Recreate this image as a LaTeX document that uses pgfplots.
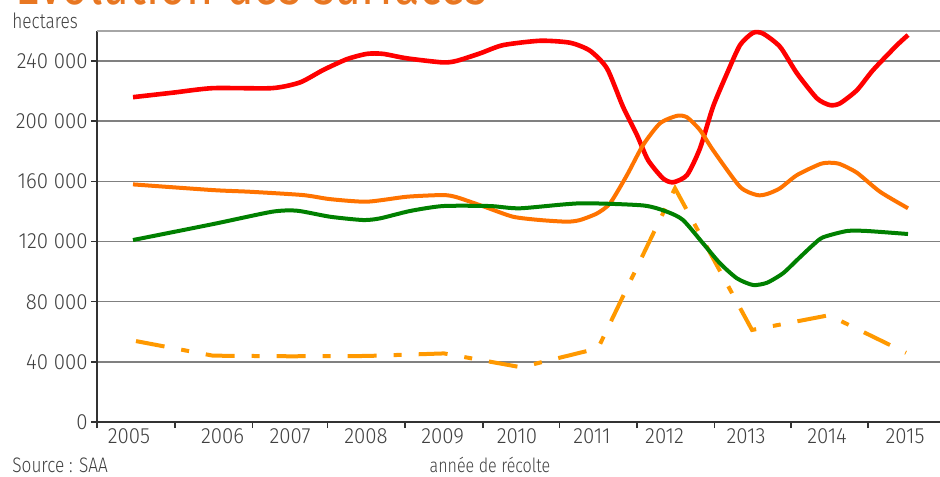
\documentclass[border=0pt]{standalone}
\usepackage{fontspec}
\setmainfont{Fira Sans Light}[FakeStretch=0.82]
\newfontfamily\tickfont{Fira Sans Light}[FakeStretch=0.93]
\newfontfamily\titlefont{Fira Sans}[FakeStretch=0.8]
\usepackage{pgfplots}
\pgfplotsset{compat=1.18}
\definecolor{cred}{RGB}{255,0,0}
\definecolor{corange}{RGB}{255,115,0}
\definecolor{cdash}{RGB}{255,153,0}
\definecolor{cgreen}{RGB}{0,128,0}
\definecolor{ctitle}{RGB}{232,119,34}
\definecolor{ctext}{RGB}{64,64,64}
\begin{document}
\begin{tikzpicture}[x=1pt,y=1pt]
\begin{axis}[
  at={(48.5pt,27pt)}, anchor=south west,
  scale only axis, width=421.5pt, height=195.5pt,
  xmin=97, xmax=940, ymin=0, ymax=260000,
  axis x line*=bottom, axis y line*=left,
  axis line style={-, color=black!80, line width=1pt},
  tick align=outside, major tick length=3pt,
  tick style={black!80, line width=0.8pt},
  ytick={0,40000,80000,120000,160000,200000,240000},
  scaled y ticks=false,
  yticklabel style={xshift=1.8pt, /pgf/number format/.cd, fixed, 1000 sep={\ }, assume math mode=true},
  ticklabel style={font=\tickfont\fontsize{11}{13}\selectfont, text=ctext},
  ymajorgrids, grid style={black!50, line width=0.75pt},
  extra y ticks={260000}, extra y tick labels={},
  extra y tick style={major tick length=0pt, grid style={black!35, line width=0.75pt}},
  xtick={97,175,252.4,327.4,404.8,482.8,559.6,637,714.4,791.2,868},
  xticklabels={},
  extra x ticks={129,222.7,290,366,442.6,517,592,664.6,746,827,905},
  extra x tick labels={2005,2006,2007,2008,2009,2010,2011,2012,2013,2014,2015},
  extra x tick style={major tick length=0pt},
  clip=false,
]
\addplot[cdash, line width=2pt, dash pattern=on 14.5pt off 8.5pt on 4pt off 8.5pt] coordinates {
(136,53800) (213,44100) (290,43700) (367,43900) (444,45600) (521,36400)
(598,49000) (675,155400) (752,61200) (829,71000) (906,46000)};
\addplot[cred, line width=2.3pt, smooth, tension=0.4] coordinates {
(133,216000) (173,219000) (213,222000) (272,222000) (300,225800) (323,234000)
(347,241300) (367,244800) (383,244800) (407,241800) (443,239100) (457,240200)
(480,245100) (503,250600) (540,253500) (570,252200) (590,246900) (607,235100)
(623,209600) (637,190800) (648,174200) (663,162000) (673,159400) (687,164200)
(700,182000) (713,209600) (727,231800) (740,250600) (753,258800) (763,258300)
(780,249500) (797,231800) (817,215200) (830,210700) (840,211900) (857,220700)
(873,234000) (897,250600) (908,257300)};
\addplot[corange, line width=2pt, smooth, tension=0.4] coordinates {
(133,158000) (213,154200) (250,153100) (303,150900) (330,148200) (367,146500)
(407,149800) (443,150900) (457,149400) (485,143000) (513,136500) (540,134300)
(567,133200) (580,134300) (597,138700) (610,145400) (627,164200) (643,184100)
(660,198600) (677,203600) (687,202600) (700,194100) (713,180800) (740,156400)
(757,150900) (767,151600) (780,155400) (797,164200) (820,171500) (830,172400)
(840,171500) (857,165700) (880,153100) (908,142100)};
\addplot[cgreen, line width=2pt, smooth, tension=0.4] coordinates {
(133,121000) (213,131600) (272,139800) (297,140500) (330,136500) (363,134300)
(380,135400) (410,140300) (443,143600) (490,143600) (520,142100) (580,145400)
(643,144000) (667,139800) (683,134300) (703,118800) (720,105500) (737,95500)
(753,91100) (767,92600) (783,98900) (797,107700) (813,117700) (823,122800)
(847,127000) (867,127000) (908,125000)};
\end{axis}
\node[anchor=base west, font=\fontsize{10.5}{12}\selectfont, text=ctext, inner sep=0] at (6pt,223.5pt) {hectares};
\node[anchor=base west, font=\fontsize{10.5}{12}\selectfont, text=ctext, inner sep=0] at (6pt,2pt) {Source : SAA};
\node[anchor=base, font=\fontsize{9.8}{12}\selectfont, text=ctext, inner sep=0] at (245pt,2pt) {année de récolte};
\node[anchor=base west, font=\titlefont\fontsize{29}{31}\selectfont, text=ctitle, inner sep=0] at (7.5pt,235.6pt) {Evolution des surfaces};
\pgfresetboundingbox
\useasboundingbox (0,0) rectangle (470pt,238pt);
\end{tikzpicture}
\end{document}
